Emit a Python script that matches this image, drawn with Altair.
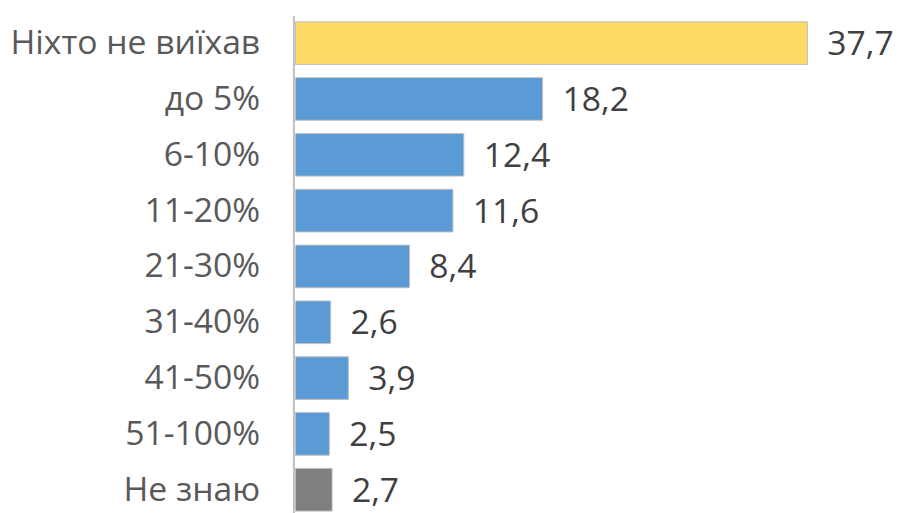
import altair as alt
import pandas as pd

categories = ["Ніхто не виїхав", "до 5%", "6-10%", "11-20%", "21-30%",
              "31-40%", "41-50%", "51-100%", "Не знаю"]
values = [37.7, 18.2, 12.4, 11.6, 8.4, 2.6, 3.9, 2.5, 2.7]
groups = ["none", "share", "share", "share", "share", "share", "share", "share", "unknown"]

df = pd.DataFrame({
    "cat": categories,
    "value": values,
    "label": [f"{v:.1f}".replace(".", ",") for v in values],
    "group": groups,
})

FONT = "Open Sans"

base = alt.Chart(df).encode(
    y=alt.Y(
        "cat:N",
        sort=categories,
        title=None,
        scale=alt.Scale(range=[0, 507], paddingInner=0.236, paddingOuter=0.118),
        axis=alt.Axis(
            ticks=False,
            domain=True,
            domainColor="#BFBFBF",
            domainWidth=2,
            offset=2,
            labelFont=FONT,
            labelFontSize=34,
            labelColor="#595959",
            labelPadding=34,
            labelOffset=1,
            labelLimit=400,
        ),
    ),
    x=alt.X("value:Q", scale=alt.Scale(domain=[0, 44.0], nice=False, zero=True),
            axis=None, title=None),
)

bars = base.mark_bar(stroke="#BFBFBF", strokeWidth=1).encode(
    color=alt.Color(
        "group:N",
        scale=alt.Scale(domain=["none", "share", "unknown"],
                        range=["#FFD966", "#5B9BD5", "#7F7F7F"]),
        legend=None,
    )
)

text = base.mark_text(align="left", baseline="middle", dx=20, dy=2, font=FONT,
                      fontSize=34, color="#404040").encode(text="label:N")

chart = (bars + text).properties(
    width=603,
    height=500,
    autosize=alt.AutoSizeParams(type="none"),
    padding={"left": 290, "top": 5, "right": 0, "bottom": 0},
).configure_view(stroke=None)

chart.save("out.html", embed_options={"renderer": "svg", "actions": False})
